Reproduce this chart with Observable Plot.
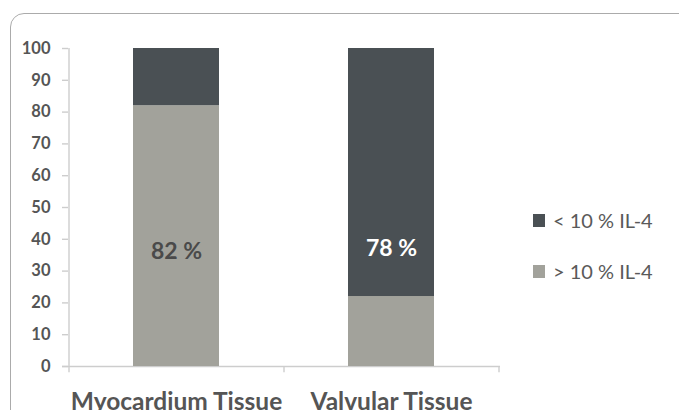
<!DOCTYPE html>
<html>
<head>
<meta charset="utf-8">
<script src="https://cdn.jsdelivr.net/npm/d3@7"></script>
<script src="https://cdn.jsdelivr.net/npm/@observablehq/plot@0.6"></script>
<style>
  html, body { margin: 0; padding: 0; background: #fff; overflow: hidden; }
  #wrap { position: relative; width: 679px; height: 410px; overflow: hidden; font-family: Lato, "Open Sans", sans-serif; }
  #border { position: absolute; left: 10px; top: 13px; width: 720px; height: 440px; border: 1.5px solid #ababab; border-radius: 14px; box-sizing: border-box; pointer-events: none; }
  #legend { position: absolute; left: 533px; top: 0; }
  .item { position: absolute; left: 0; display: flex; align-items: center; white-space: nowrap; color: #5a5a5a; font-size: 20px; }
  .sw { width: 12px; height: 13px; margin-right: 8px; }
  svg { position: absolute; left: 0; top: 0; }
</style>
</head>
<body>
<div id="wrap"><div id="border"></div><div id="legend"></div></div>
<script>
const categories = ["Myocardium Tissue", "Valvular Tissue"];
const seriesNames = ["> 10 % IL-4", "< 10 % IL-4"];
const above10 = [82, 22];   // > 10 % IL-4 (light)
const below10 = [18, 78];   // < 10 % IL-4 (dark)
const labelText = ["82 %", "78 %"];
const labelValue = [36, 37];
const labelSeries = ["> 10 % IL-4", "< 10 % IL-4"];
const yTicks = [0, 10, 20, 30, 40, 50, 60, 70, 80, 90, 100];

const colors = {"> 10 % IL-4": "#a2a29b", "< 10 % IL-4": "#4a5054"};

const rows = [];
categories.forEach((c, i) => {
  rows.push({cat: c, series: seriesNames[0], value: above10[i]});
  rows.push({cat: c, series: seriesNames[1], value: below10[i]});
});
const labels = categories.map((c, i) => ({cat: c, text: labelText[i], y: labelValue[i], series: labelSeries[i]}));

const W = 679, H = 410, mL = 68, mR = 181, mT = 48, mB = 44;
const step = (W - mL - mR) / categories.length;
const axisColor = "#cdcdcd";

const chart = Plot.plot({
  width: W, height: H,
  marginLeft: mL, marginRight: mR, marginTop: mT, marginBottom: mB,
  style: {fontFamily: "Lato, 'Open Sans', sans-serif", background: "transparent", overflow: "visible"},
  x: {domain: categories, paddingInner: 0.6, paddingOuter: 0.3, label: null},
  y: {domain: [0, 100], label: null},
  color: {domain: seriesNames, range: seriesNames.map(s => colors[s])},
  marks: [
    Plot.ruleY([0], {stroke: axisColor, strokeWidth: 1.4, insetLeft: -6, insetRight: -2}),
    // y-axis line (left boundary of first category), extending a little below zero
    Plot.ruleX([categories[0]], {x: d => d, stroke: axisColor, strokeWidth: 1.4, dx: -step / 2, y1: () => -2, y2: () => 100}),
    // category boundary ticks below the baseline
    Plot.ruleX(categories.slice(1), {x: d => d, stroke: axisColor, strokeWidth: 1.4, dx: -step / 2, y1: () => 0, y2: () => -2}),
    Plot.ruleX(categories.slice(-1), {x: d => d, stroke: axisColor, strokeWidth: 1.4, dx: step / 2, y1: () => 0, y2: () => -2}),
    Plot.barY(rows, {x: "cat", y: "value", fill: "series", order: seriesNames}),
    Plot.axisY({ticks: yTicks, tickSize: 6, tickPadding: 12, stroke: axisColor, strokeWidth: 1.4, fill: "#555", fontSize: 16.5, fontWeight: "bold", label: null}),
    Plot.axisX({tickSize: 0, tickPadding: 26, fill: "#555", fontSize: 24.5, fontWeight: "bold", label: null}),
    Plot.text(labels, {x: "cat", y: "y", text: "text", fontSize: 23, fontWeight: "bold",
      fill: d => d.series === "< 10 % IL-4" ? "#ffffff" : "#4a4a4a"})
  ]
});

document.getElementById("wrap").appendChild(chart);

// legend
const legend = document.getElementById("legend");
const legendItems = [{s: "< 10 % IL-4", y: 221}, {s: "> 10 % IL-4", y: 272}];
legendItems.forEach(it => {
  const d = document.createElement("div");
  d.className = "item";
  d.style.top = (it.y - 13) + "px";
  d.innerHTML = `<div class="sw" style="background:${colors[it.s]}"></div><span>${it.s}</span>`;
  legend.appendChild(d);
});
</script>
</body>
</html>
